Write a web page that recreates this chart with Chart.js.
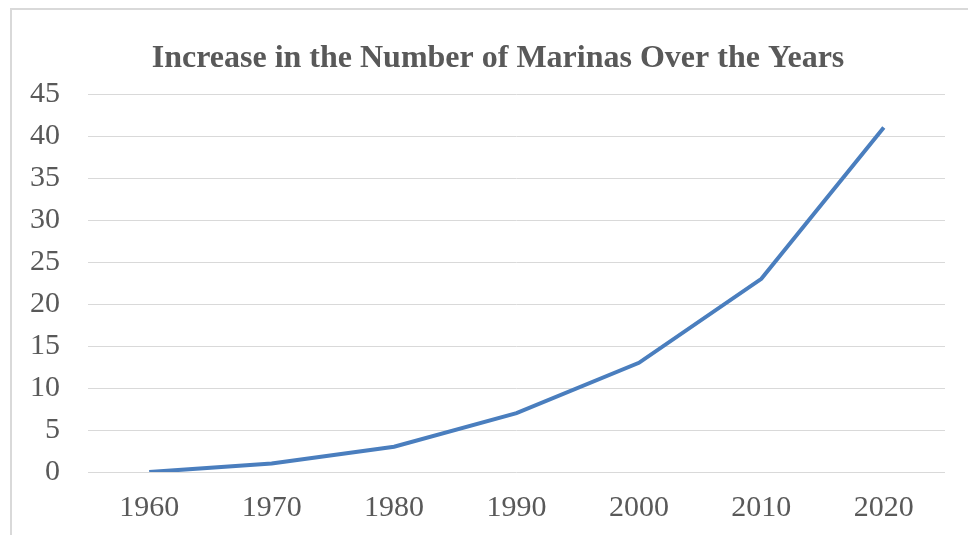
<!DOCTYPE html>
<html>
<head>
<meta charset="utf-8">
<script src="https://cdn.jsdelivr.net/npm/chart.js@4"></script>
<style>
  html, body { margin: 0; padding: 0; background: #fff; width: 968px; height: 535px; overflow: hidden; }
  #frame { position: absolute; left: 10px; top: 8px; width: 980px; height: 560px;
           border-left: 2px solid #d9d9d9; border-top: 2px solid #d9d9d9; }
  #wrap { position: absolute; left: 0; top: 0; width: 972px; height: 525px; }
</style>
</head>
<body>
<div id="frame"><div id="wrap"><canvas id="c"></canvas></div></div>
<script>
const chartTitle = "Increase in the Number of Marinas Over the Years";
const years = ["1960", "1970", "1980", "1990", "2000", "2010", "2020"];
const marinas = [0, 1, 3, 7, 13, 23, 41];
const yMin = 0, yMax = 45, yStep = 5;

const textColor = "#595959";
const serif = "'Liberation Serif', 'Times New Roman', serif";

new Chart(document.getElementById("c"), {
  type: "line",
  data: {
    labels: years,
    datasets: [{
      data: marinas,
      borderColor: "#4a7ebe",
      backgroundColor: "#4a7ebe",
      borderWidth: 4,
      pointRadius: 0,
      tension: 0,
      fill: false
    }]
  },
  options: {
    responsive: true,
    maintainAspectRatio: false,
    animation: false,
    layout: { padding: 0 },
    plugins: {
      legend: { display: false },
      tooltip: { enabled: false },
      title: {
        display: true,
        text: chartTitle,
        color: textColor,
        font: { family: serif, size: 32, weight: "bold", lineHeight: 1.2 },
        padding: { top: 29.5, bottom: 16.1 }
      }
    },
    scales: {
      x: {
        offset: true,
        grid: { display: false },
        border: { display: false },
        afterFit: (s) => { s.height = 63; },
        ticks: {
          color: textColor,
          font: { family: serif, size: 30, lineHeight: 1.2 },
          padding: 10,
          maxRotation: 0
        }
      },
      y: {
        min: yMin,
        max: yMax,
        grid: { color: "#d9d9d9", lineWidth: 1, drawTicks: false },
        border: { display: false },
        afterFit: (s) => { s.width = 76; },
        ticks: {
          stepSize: yStep,
          color: textColor,
          font: { family: serif, size: 30 },
          padding: 28
        }
      },
      yRightSpace: {
        position: "right",
        display: true,
        grid: { display: false, drawTicks: false },
        border: { display: false },
        ticks: { display: false },
        afterFit: (s) => { s.width = 39; }
      }
    }
  }
});
</script>
</body>
</html>
